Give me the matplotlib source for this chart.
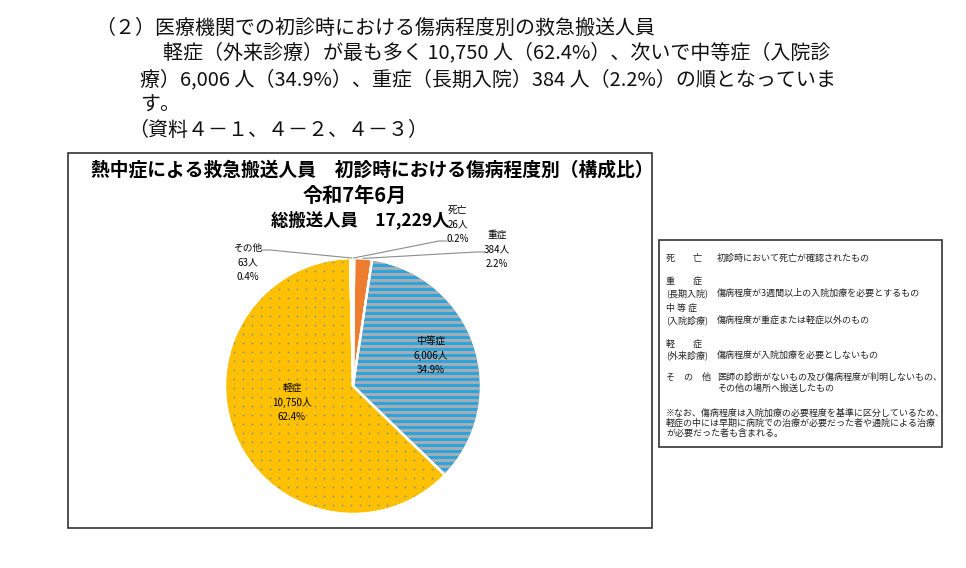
import numpy as np
import matplotlib
matplotlib.use("Agg")
import matplotlib.pyplot as plt
from matplotlib.patches import Rectangle, Wedge

plt.rcParams['font.family'] = ['Noto Sans CJK JP', 'DejaVu Sans']

W, H = 966, 568

# ---- data ----
categories = ['死亡', '重症', '中等症', '軽症', 'その他']
counts = [26, 384, 6006, 10750, 63]
percents = ['0.2%', '2.2%', '34.9%', '62.4%', '0.4%']
count_labels = ['26人', '384人', '6,006人', '10,750人', '63人']
total_label = '総搬送人員　17,229人'
colors = ['#1f3b6e', '#ed7d31', '#2ea4dc', '#ffc000', '#e4ebf3']

body_lines = [
    '（２）医療機関での初診時における傷病程度別の救急搬送人員',
    '軽症（外来診療）が最も多く 10,750 人（62.4%）、次いで中等症（入院診',
    '療）6,006 人（34.9%）、重症（長期入院）384 人（2.2%）の順となっていま',
    'す。',
    '（資料４－１、４－２、４－３）',
]
chart_title = '熱中症による救急搬送人員　初診時における傷病程度別（構成比）'
chart_sub = '令和7年6月'

legend_left = ['死　　亡', '重　　症', '(長期入院)', '中 等 症', '(入院診療)',
               '軽　　症', '(外来診療)', 'そ　の　他', '']
legend_right = ['初診時において死亡が確認されたもの', '', '傷病程度が3週間以上の入院加療を必要とするもの',
                '', '傷病程度が重症または軽症以外のもの', '', '傷病程度が入院加療を必要としないもの',
                '医師の診断がないもの及び傷病程度が判明しないもの、', 'その他の場所へ搬送したもの']
legend_note = ['※なお、傷病程度は入院加療の必要程度を基準に区分しているため、',
               '軽症の中には早期に病院での治療が必要だった者や通院による治療',
               'が必要だった者も含まれる。']

fig = plt.figure(figsize=(W / 100, H / 100), dpi=100)


def fx(x):
    return x / W


def fy(y):
    return 1 - y / H


# ---- body text ----
body_pos = [(95, 28), (163, 53), (140, 80), (140, 105), (128, 131)]
for (x, y), t in zip(body_pos, body_lines):
    fig.text(fx(x), fy(y), t, fontsize=14.4, ha='left', va='center', color='#111111')

# ---- frames ----
fig.add_artist(Rectangle((fx(68), fy(528)), (652 - 68) / W, (528 - 153) / H,
                         transform=fig.transFigure, fill=False, edgecolor='#333333', lw=1.2))
fig.add_artist(Rectangle((fx(659), fy(447)), (942 - 659) / W, (447 - 240) / H,
                         transform=fig.transFigure, fill=False, edgecolor='#333333', lw=1.2))

# ---- chart titles ----
fig.text(fx(372), fy(170), chart_title, fontsize=13.5, fontweight='bold', ha='center', va='center')
fig.text(fx(355), fy(195), chart_sub, fontsize=14.5, fontweight='bold', ha='center', va='center')
fig.text(fx(360), fy(220), total_label, fontsize=12.5, fontweight='bold', ha='center', va='center')

# ---- pie ----
cx, cy, R = 353, 386, 128
pad = 1.1
ax = fig.add_axes([fx(cx - R * pad), fy(cy + R * pad), 2 * R * pad / W, 2 * R * pad / H])
wedges, _ = ax.pie(counts, colors=colors, startangle=90, counterclock=False, radius=1,
                   wedgeprops=dict(edgecolor='white', linewidth=1.6))
ax.set_xlim(-pad, pad)
ax.set_ylim(-pad, pad)
ax.set_aspect('auto')
ax.axis('off')

# stripes on 中等症
wb = wedges[2]
period = 6 / R
for yy in np.arange(-1.0, 1.0, period):
    ln, = ax.plot([-1.1, 1.1], [yy, yy], color='#a7adb3', lw=2.1, zorder=wb.get_zorder() + 0.1,
                  solid_capstyle='butt')
    ln.set_clip_path(wb)
# dots on 軽症
wy = wedges[3]
sp = 9 / R
gx, gy = np.meshgrid(np.arange(-1.0, 1.0, sp), np.arange(-1.0, 1.0, sp))
sc = ax.scatter(gx.ravel(), gy.ravel(), s=1.8, color='#7f9a86', linewidths=0, zorder=wy.get_zorder() + 0.1)
sc.set_clip_path(wy)
# redraw white outlines on top
for w in wedges:
    ax.add_patch(Wedge((0, 0), 1, w.theta1, w.theta2, facecolor='none', edgecolor='white', lw=1.6, zorder=5))

# ---- labels ----
label_pos = {0: (458, 210), 1: (497, 235), 2: (431, 341), 3: (292, 388), 4: (248, 248)}
for i, (x, y) in label_pos.items():
    fig.text(fx(x), fy(y), categories[i], fontsize=7, ha='center', va='center')
    fig.text(fx(x), fy(y + 14.5), count_labels[i], fontsize=7, ha='center', va='center')
    fig.text(fx(x), fy(y + 29), percents[i], fontsize=7, ha='center', va='center')


def wedge_edge(i, r=1.0):
    w = wedges[i]
    a = np.deg2rad((w.theta1 + w.theta2) / 2)
    return r * np.cos(a), r * np.sin(a)


def to_data(px, py):
    return ((px - cx) / R, (cy - py) / R)


leaders = {0: [(447, 241), (439, 241)], 1: [(484, 252), (476, 252)], 4: [(262, 250), (270, 250)]}
for i, pts in leaders.items():
    ex, ey = wedge_edge(i, 1.0)
    p0 = to_data(*pts[0])
    p1 = to_data(*pts[1])
    ax.plot([p0[0], p1[0], ex], [p0[1], p1[1], ey], color='#8c8c8c', lw=0.8, clip_on=False, zorder=6)

# ---- legend box text ----
ly = [258, 281, 293, 308, 320, 344, 355, 377, 388]
for y, lt, rt in zip(ly, legend_left, legend_right):
    if lt:
        fig.text(fx(666), fy(y), lt, fontsize=6.5, ha='left', va='center', color='#222222')
    if rt:
        fig.text(fx(717), fy(y), rt, fontsize=6.5, ha='left', va='center', color='#222222')
for y, t in zip([413, 423, 433], legend_note):
    fig.text(fx(666), fy(y), t, fontsize=6.5, ha='left', va='center', color='#222222')

fig.savefig('out.png', dpi=100, facecolor='white')
